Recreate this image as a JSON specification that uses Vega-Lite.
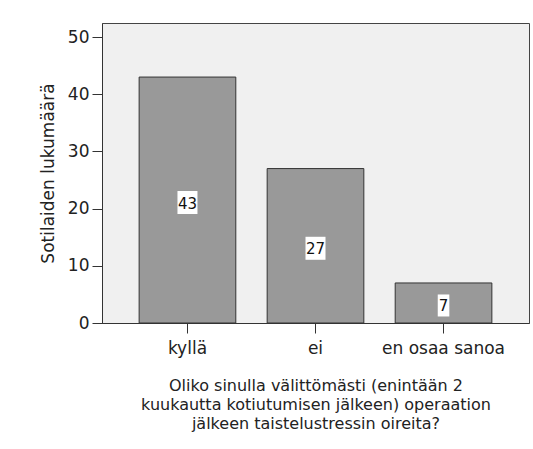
{
  "$schema": "https://vega.github.io/schema/vega-lite/v6.json",
  "autosize": {"type": "none"},
  "padding": {"left": 102, "top": 23, "right": 4, "bottom": 126},
  "width": 427,
  "height": 300,
  "background": "white",
  "data": {"values": [
    {"vastaus": "kyllä", "n": 43},
    {"vastaus": "ei", "n": 27},
    {"vastaus": "en osaa sanoa", "n": 7}
  ]},
  "encoding": {
    "x": {
      "field": "vastaus", "type": "nominal", "sort": null,
      "scale": {"paddingInner": 0.245, "paddingOuter": 0.29},
      "axis": {
        "title": ["Oliko sinulla välittömästi (enintään 2", "kuukautta kotiutumisen jälkeen) operaation", "jälkeen taistelustressin oireita?"],
        "labelAngle": 0, "labelPadding": 7, "tickSize": 10,
        "titlePadding": 21, "titleLineHeight": 19, "titleFontSize": 16
      }
    }
  },
  "layer": [
    {
      "mark": {"type": "bar", "fill": "#999999", "stroke": "#333333", "strokeWidth": 1},
      "encoding": {
        "y": {
          "field": "n", "type": "quantitative",
          "scale": {"domain": [0, 52.45], "nice": false, "zero": true},
          "axis": {
            "title": "Sotilaiden lukumäärä",
            "values": [0, 10, 20, 30, 40, 50],
            "tickSize": 10, "labelPadding": 3, "titlePadding": 10
          }
        }
      }
    },
    {
      "encoding": {
        "y": {
          "field": "n", "type": "quantitative",
          "scale": {"domain": [0, 104.9], "nice": false, "zero": true},
          "axis": null
        }
      },
      "layer": [
        {
          "mark": {"type": "point", "filled": true, "fill": "white", "opacity": 1, "strokeWidth": 0, "size": 400, "yOffset": 2.5},
          "encoding": {
            "shape": {
              "condition": {"test": "datum.n < 10", "value": "M-0.58,-1.1H0.58V1.1H-0.58Z"},
              "value": "M-1,-1.15H1V1.15H-1Z"
            }
          }
        },
        {
          "mark": {"type": "text", "font": "DejaVu Sans", "fontSize": 15, "color": "#111111", "baseline": "middle", "align": "center", "yOffset": 2.5, "dy": 1},
          "encoding": {
            "text": {"field": "n", "type": "quantitative"}
          }
        }
      ]
    }
  ],
  "resolve": {"scale": {"y": "independent"}, "axis": {"y": "independent"}},
  "config": {
    "view": {"fill": "#f0f0f0", "stroke": "#444444", "strokeWidth": 1},
    "axis": {
      "grid": false,
      "domainColor": "#333333",
      "tickColor": "#333333",
      "labelFont": "DejaVu Sans",
      "labelFontSize": 17,
      "labelColor": "#222222",
      "titleFont": "DejaVu Sans",
      "titleFontSize": 17,
      "titleFontWeight": "normal",
      "titleColor": "#222222"
    }
  }
}
